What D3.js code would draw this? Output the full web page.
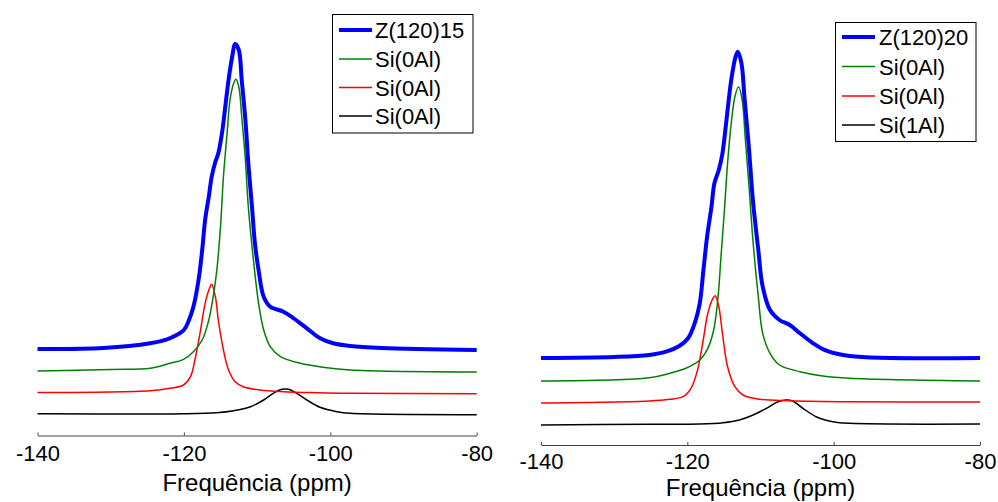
<!DOCTYPE html>
<html>
<head>
<meta charset="utf-8">
<script src="https://cdn.jsdelivr.net/npm/d3@7"></script>
<style>
  html, body { margin: 0; padding: 0; background: #fff; }
  svg { display: block; }
  text { font-family: "Liberation Sans", Arial, sans-serif; fill: #000; }
</style>
</head>
<body>
<svg id="chart" width="998" height="502"></svg>
<script>
// ---------- DATA (ppm, intensity in arbitrary units) ----------
const xTicks = [-140, -120, -100, -80];
const xTitle = "Frequência (ppm)";

const legendLeft  = ["Z(120)15", "Si(0Al)", "Si(0Al)", "Si(0Al)"];
const legendRight = ["Z(120)20", "Si(0Al)", "Si(0Al)", "Si(1Al)"];

// Left panel: Z(120)15
const totalL = [[-140,84],[-131,85],[-124.6,89.7],[-122.3,93.7],[-121.0,98],[-120.0,103],[-119.4,111.3],
  [-118.7,126.3],[-118.0,153],[-117.5,183],[-117.1,213],[-116.6,236.3],[-116.2,256.3],[-115.7,271.3],
  [-115.3,279.7],[-114.8,299.7],[-114.4,323],[-113.9,353],[-113.4,376.3],[-113.0,389],[-112.5,383],
  [-112.1,353],[-111.6,313],[-111.2,269.7],[-110.7,226.3],[-110.3,189.7],[-109.8,163],[-109.1,136.3],
  [-108.2,126.3],[-106.4,121.3],[-105.0,114.7],[-103.2,104.7],[-101.4,94.7],[-99.6,89.7],[-97.3,87],
  [-93,85],[-80,83]];
const siA_L = [[-140,62],[-130,63.5],[-124.6,64.7],[-121.9,69.7],[-120.05,73.7],[-118.7,81.3],[-117.5,93],
  [-116.6,113],[-116.0,136.3],[-115.5,163],[-115.0,206.3],[-114.6,256.3],[-114.1,299.7],[-113.7,333],
  [-113.2,349.7],[-112.9,353.7],[-112.5,346.3],[-112.1,316.3],[-111.6,273],[-111.2,226.3],[-110.5,173],
  [-109.8,129.7],[-109.1,103],[-108.2,86.3],[-106.8,76.3],[-104.1,69.7],[-100.9,65.7],[-97.3,63],[-80,61]];
const siB_L = [[-140,40.5],[-124.6,42.3],[-121.9,44.7],[-120.05,48],[-119.1,56.3],[-118.5,73],[-117.8,99.7],
  [-117.1,129.7],[-116.5,144.7],[-116.2,148.7],[-115.7,136.3],[-115.3,113],[-114.6,83],[-113.9,63],
  [-113.0,51.3],[-111.9,46.3],[-109.6,43],[-106.4,41.3],[-101.8,40.3],[-97.3,39.7],[-80,39.3]];
const siC_L = [[-140,19.3],[-124.6,19],[-120.05,19.2],[-115.5,20.3],[-113.2,22.3],[-110.9,26.3],[-109.1,33],
  [-107.8,39.7],[-106.6,43.7],[-105.7,43.7],[-104.6,39.7],[-103.2,33],[-101.4,25.7],[-99.1,21.3],
  [-97.3,19.7],[-80,18.3]];

// Right panel: Z(120)20
const totalR = [[-140,85],[-130,86],[-125.2,88],[-122.9,91.3],[-121.1,97],[-119.9,104.7],[-119.0,119.7],
  [-118.3,139.7],[-117.8,173],[-117.3,206.3],[-116.7,236.3],[-116.3,259.7],[-115.7,273],[-115.2,289.7],
  [-114.7,319.7],[-114.0,363],[-113.4,386.3],[-113.1,391.3],[-112.6,379.7],[-112.2,346.3],[-111.6,296.3],
  [-111.0,239.7],[-110.3,193],[-109.7,156.3],[-108.7,133],[-107.4,123],[-106.0,118],[-104.6,109.7],
  [-102.8,99.7],[-101.0,92.3],[-97.8,87],[-80,85]];
const siA_R = [[-140,62],[-125.2,65.3],[-122.4,69.7],[-120.2,74.7],[-118.3,83],[-117.2,94.7],[-116.4,113],
  [-115.8,146.3],[-115.4,186.3],[-114.9,236.3],[-114.5,279.7],[-114.0,319.7],[-113.5,346.3],[-113.0,356.3],
  [-112.5,343],[-112.1,306.3],[-111.6,259.7],[-111.0,199.7],[-110.3,146.3],[-109.7,109.7],[-108.7,89.7],
  [-107.4,78],[-104.6,71.3],[-101.5,67],[-97.8,64.7],[-80,62]];
const siB_R = [[-140,40],[-125.2,42],[-122.4,43.7],[-120.6,46.3],[-119.5,54.7],[-118.6,73],[-117.9,99.7],
  [-117.2,129.7],[-116.5,144.7],[-116.2,147.3],[-115.7,136.3],[-115.2,109.7],[-114.5,76.3],[-113.5,56.3],
  [-112.4,48],[-110.1,43.7],[-106.0,42.3],[-97.8,41.3],[-80,41]];
const siC_R = [[-140,18],[-125.2,18.7],[-118.3,19],[-115.1,20.3],[-112.9,23],[-111.0,28],[-109.2,34.7],
  [-107.6,41.3],[-106.5,43],[-105.6,42],[-104.2,34.7],[-102.4,26.3],[-100.1,21.3],[-97.8,19.7],[-80,19]];

const seriesColors = ["#0000ff", "#008000", "#ff0000", "#000000"];
const seriesWidths = [4, 1.5, 1.5, 1.5];

// ---------- LAYOUT ----------
const panels = [
  { series: [totalL, siA_L, siB_L, siC_L], legend: legendLeft,
    x0: 37.5, x1: 476.7, baseY: 433, axisY: 435.5, tickBase: 461, titleBase: 491,
    box: { x: 332.5, y: 14.5, w: 140.5, h: 118.5 }, rows: [30, 59, 87.5, 116],
    lineX: [339, 372], textX: 375 },
  { series: [totalR, siA_R, siB_R, siC_R], legend: legendRight,
    x0: 541, x1: 980, baseY: 443, axisY: 445, tickBase: 469, titleBase: 496,
    box: { x: 835.5, y: 22.5, w: 140.5, h: 119 }, rows: [37, 66.5, 96, 125],
    lineX: [842, 875], textX: 879 }
];

const svg = d3.select("#chart");

panels.forEach(p => {
  const x = d3.scaleLinear().domain([-140, -80]).range([p.x0, p.x1]);
  const y = d3.scaleLinear().domain([0, 400]).range([p.baseY, p.baseY - 400]);
  const g = svg.append("g");

  const line = d3.line()
    .x(d => x(d[0])).y(d => y(d[1]))
    .curve(d3.curveCatmullRom.alpha(0.5));

  // draw components first, total on top
  [3, 2, 1, 0].forEach(i => {
    g.append("path")
      .datum(p.series[i])
      .attr("fill", "none")
      .attr("stroke", seriesColors[i])
      .attr("stroke-width", seriesWidths[i])
      .attr("stroke-linejoin", "round")
      .attr("d", line);
  });

  // x axis: ticks pointing up, labels below
  const axis = d3.axisBottom(x).tickValues(xTicks).tickSizeInner(-3).tickSizeOuter(0)
    .tickFormat(d3.format("d"));
  const ag = g.append("g").attr("transform", `translate(0,${p.axisY})`).call(axis);
  ag.select(".domain").attr("stroke", "#444").attr("stroke-width", 1);
  ag.selectAll(".tick line").attr("stroke", "#444");
  ag.selectAll(".tick text")
    .attr("y", p.tickBase - p.axisY).attr("dy", null)
    .style("font-family", "'Liberation Sans', Arial, sans-serif")
    .style("font-size", "22px").attr("fill", "#000")
    .text(d => d3.format("d")(d).replace("−", "-"));

  g.append("text")
    .attr("x", (p.x0 + p.x1) / 2).attr("y", p.titleBase)
    .attr("text-anchor", "middle")
    .style("font-size", "24px")
    .text(xTitle);

  // legend
  const lg = g.append("g");
  lg.append("rect")
    .attr("x", p.box.x).attr("y", p.box.y).attr("width", p.box.w).attr("height", p.box.h)
    .attr("fill", "#fff").attr("stroke", "#000").attr("stroke-width", 1);
  p.legend.forEach((name, i) => {
    lg.append("line")
      .attr("x1", p.lineX[0]).attr("x2", p.lineX[1])
      .attr("y1", p.rows[i]).attr("y2", p.rows[i])
      .attr("stroke", seriesColors[i]).attr("stroke-width", seriesWidths[i]);
    lg.append("text")
      .attr("x", p.textX).attr("y", p.rows[i] + 8)
      .style("font-size", "22px")
      .text(name);
  });
});
</script>
</body>
</html>
